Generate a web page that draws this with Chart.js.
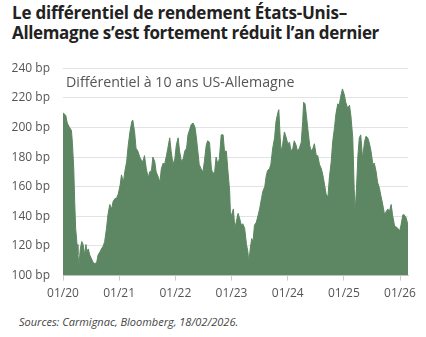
<!DOCTYPE html>
<html>
<head>
<meta charset="utf-8">
<script src="https://cdn.jsdelivr.net/npm/chart.js@4"></script>
<style>
  body { margin: 0; background: #fff; width: 426px; height: 337px; position: relative; overflow: hidden; font-family: "Open Sans", sans-serif; }
  .tl { position: absolute; left: 12px; font-size: 17px; line-height: 20px; font-weight: 700; color: #222; white-space: nowrap; }
  #t1 { top: 3px; }
  #t2 { top: 23px; }
  #wrap { position: absolute; left: 0; top: 48px; width: 426px; height: 259px; }
  #source { position: absolute; left: 19px; top: 314px; font-size: 11px; font-style: italic; color: #444; }
</style>
</head>
<body>
<div class="tl" id="t1">Le différentiel de rendement États-Unis–</div>
<div class="tl" id="t2">Allemagne s’est fortement réduit l’an dernier</div>
<div id="wrap"><canvas id="chart"></canvas></div>
<div id="source">Sources: Carmignac, Bloomberg, 18/02/2026.</div>
<script>
// months since 01/2020
const months = [
  0.0, 0.3, 0.6, 0.9, 1.4, 1.8, 2.0, 2.3, 2.5, 2.7, 3.0, 3.2, 3.4, 3.7, 4.0, 4.3, 4.6, 4.9, 5.1, 5.4,
  5.7, 6.0, 6.4, 6.8, 7.2, 7.5, 7.9, 8.2, 8.6, 8.9, 9.3, 9.6, 10.0, 10.4, 10.7, 11.1, 11.4, 11.8, 12.2, 12.5,
  12.9, 13.2, 13.6, 13.9, 14.3, 14.7, 14.9, 15.3, 15.6, 16.0, 16.4, 16.7, 17.1, 17.4, 17.8, 18.2, 18.5, 18.9, 19.2, 19.6,
  19.9, 20.3, 20.7, 21.0, 21.4, 21.7, 22.1, 22.4, 22.8, 23.1, 23.5, 23.9, 24.2, 24.6, 24.9, 25.3, 25.7, 26.0, 26.4, 26.7,
  27.1, 27.4, 27.8, 28.2, 28.5, 28.8, 29.1, 29.5, 29.9, 30.2, 30.6, 30.9, 31.3, 31.7, 32.0, 32.4, 32.7, 33.1, 33.4, 33.8,
  34.2, 34.5, 34.9, 35.2, 35.6, 35.8, 36.2, 36.4, 36.7, 37.0, 37.4, 37.7, 38.1, 38.4, 38.8, 39.2, 39.5, 39.7, 40.0, 40.3,
  40.6, 40.9, 41.3, 41.7, 42.0, 42.4, 42.7, 43.1, 43.4, 43.7, 44.1, 44.4, 44.8, 45.2, 45.5, 45.9, 46.1, 46.4, 46.6, 46.9,
  47.3, 47.7, 48.0, 48.4, 48.7, 49.1, 49.4, 49.8, 50.1, 50.5, 50.9, 51.2, 51.4, 51.7, 52.0, 52.3, 52.7, 53.0, 53.4, 53.7,
  54.1, 54.4, 54.8, 55.2, 55.5, 55.9, 56.2, 56.6, 56.9, 57.3, 57.6, 58.0, 58.3, 58.7, 59.0, 59.4, 59.7, 60.1, 60.4, 60.8,
  61.2, 61.5, 61.9, 62.2, 62.4, 62.7, 63.0, 63.3, 63.6, 64.0, 64.4, 64.7, 65.1, 65.4, 65.8, 66.2, 66.5, 66.9, 67.2, 67.6,
  67.9, 68.3, 68.7, 69.0, 69.4, 69.7, 70.1, 70.4, 70.8, 71.1, 71.5, 71.9, 72.2, 72.6, 72.9, 73.3, 73.7
];
// US-Germany 10y spread, bp
const spread = [
  210, 209, 208, 203, 200, 198, 190, 172, 150, 132, 121, 114, 107, 118, 123, 121, 114, 121, 116, 118,
  114, 112, 109, 108, 109, 114, 116, 118, 120, 123, 132, 141, 148, 145, 150, 152, 152, 155, 161, 168,
  163, 170, 177, 187, 197, 204, 205, 197, 186, 184, 180, 178, 177, 181, 172, 166, 170, 171, 180, 177,
  170, 167, 163, 172, 176, 175, 181, 186, 193, 184, 175, 179, 188, 193, 184, 177, 179, 184, 186, 195,
  199, 202, 203, 200, 193, 184, 175, 172, 170, 177, 188, 191, 190, 172, 169, 170, 180, 175, 179, 195,
  195, 184, 184, 172, 157, 139, 143, 145, 132, 136, 142, 139, 134, 135, 132, 121, 116, 109, 118, 125,
  123, 134, 136, 141, 145, 152, 157, 160, 167, 171, 172, 175, 186, 193, 204, 210, 212, 193, 184, 188,
  197, 193, 189, 190, 184, 186, 191, 188, 184, 186, 190, 204, 217, 216, 208, 199, 188, 184, 186, 189,
  181, 181, 175, 172, 168, 161, 155, 153, 166, 177, 190, 200, 209, 216, 215, 222, 226, 222, 217, 213,
  215, 208, 193, 159, 143, 159, 181, 193, 195, 179, 190, 194, 193, 190, 184, 175, 176, 170, 163, 159,
  154, 148, 141, 143, 145, 143, 148, 141, 134, 133, 132, 130, 134, 141, 141, 139, 134
];
const yearTicks = [0, 12, 24, 36, 48, 60, 72];
const yearLabels = ['01/20', '01/21', '01/22', '01/23', '01/24', '01/25', '01/26'];
const seriesName = 'Différentiel à 10 ans US-Allemagne';

// stretch each title line to the width it has in the original
[['t1', 335], ['t2', 367]].forEach(([id, w]) => {
  const el = document.getElementById(id);
  const n = el.textContent.length;
  el.style.letterSpacing = ((w - el.getBoundingClientRect().width) / n) + 'px';
});

const points = months.map((m, i) => ({ x: m, y: spread[i] }));

const inlineLegend = {
  id: 'inlineLegend',
  afterDatasetsDraw(chart) {
    const { ctx, chartArea } = chart;
    ctx.save();
    ctx.font = '14.2px "Open Sans"';
    ctx.fillStyle = '#555';
    ctx.textBaseline = 'middle';
    ctx.fillText(seriesName, chartArea.left + 3, chartArea.top + 15);
    ctx.restore();
  }
};

const ctx = document.getElementById('chart').getContext('2d');
new Chart(ctx, {
  type: 'line',
  data: {
    datasets: [{
      label: seriesName,
      data: points,
      backgroundColor: '#5c8762',
      borderColor: '#5c8762',
      borderWidth: 1,
      pointRadius: 0,
      fill: 'start',
      tension: 0
    }]
  },
  options: {
    responsive: true,
    maintainAspectRatio: false,
    animation: false,
    layout: { padding: { top: 3, right: 18, bottom: 0, left: 0 } },
    plugins: { legend: { display: false }, tooltip: { enabled: false } },
    scales: {
      x: {
        type: 'linear',
        min: 0,
        max: 73.7,
        afterBuildTicks: (scale) => { scale.ticks = yearTicks.map(v => ({ value: v })); },
        ticks: {
          callback: (v) => yearLabels[yearTicks.indexOf(v)],
          font: { family: 'Open Sans', size: 12 },
          color: '#555',
          padding: 6,
          maxRotation: 0
        },
        grid: { drawOnChartArea: false, drawTicks: true, tickLength: 5, tickColor: '#ccc' },
        border: { display: true, color: '#ccc' }
      },
      y: {
        min: 100,
        max: 240,
        afterFit: (scale) => { scale.width = 63; },
        ticks: {
          stepSize: 20,
          callback: (v) => v + ' bp',
          font: { family: 'Open Sans', size: 12 },
          color: '#555',
          padding: 13
        },
        grid: { color: '#e3e3e3', drawTicks: false },
        border: { display: false }
      }
    }
  },
  plugins: [inlineLegend]
});
</script>
</body>
</html>
